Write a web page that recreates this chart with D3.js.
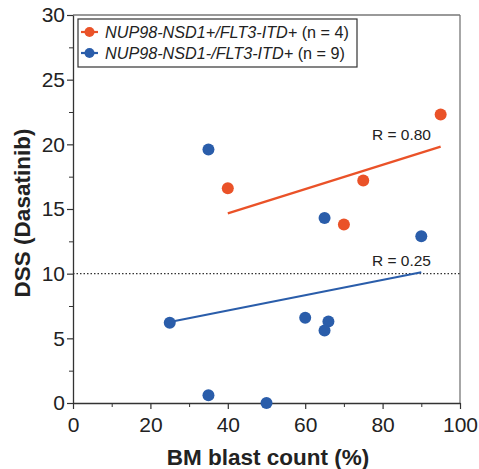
<!DOCTYPE html>
<html>
<head>
<meta charset="utf-8">
<script src="https://cdn.jsdelivr.net/npm/d3@7"></script>
<style>
  body { margin: 0; background: #fff; }
  text { font-family: "Liberation Sans", Arial, sans-serif; fill: #222; }
</style>
</head>
<body>
<svg id="chart" width="479" height="469"></svg>
<script>
// data
var posBlast = [40, 70, 75, 95];
var posDss = [16.6, 13.8, 17.2, 22.3];
var negBlast = [35, 65, 90, 25, 60, 66, 65, 35, 50];
var negDss = [19.6, 14.3, 12.9, 6.2, 6.6, 6.3, 5.6, 0.6, 0];
var seriesNames = ['NUP98-NSD1+/FLT3-ITD+', 'NUP98-NSD1-/FLT3-ITD+'];
var seriesCounts = ['(n = 4)', '(n = 9)'];
var seriesR = ['R = 0.80', 'R = 0.25'];
var xTicks = [0, 20, 40, 60, 80, 100];
var yTicks = [0, 5, 10, 15, 20, 25, 30];
var threshold = 10;

var colors = ['#ea5228', '#2a5daa'];

var svg = d3.select('#chart');
var margin = {left: 73, right: 19, top: 15, bottom: 66};
var width = 479 - margin.left - margin.right;
var height = 469 - margin.top - margin.bottom;

var x = d3.scaleLinear().domain([0, 100]).range([0, width]);
var y = d3.scaleLinear().domain([0, 30]).range([height, 0]);

var g = svg.append('g').attr('transform', 'translate(' + margin.left + ',' + margin.top + ')');

// frame on top and right
g.append('line').attr('x1', 0).attr('x2', width).attr('y1', 0).attr('y2', 0)
  .attr('stroke', '#777').attr('stroke-width', 1.3);
g.append('line').attr('x1', width).attr('x2', width).attr('y1', 0).attr('y2', height)
  .attr('stroke', '#777').attr('stroke-width', 1.3);

// minor ticks
var xMinor = g.append('g').attr('transform', 'translate(0,' + height + ')')
  .call(d3.axisBottom(x).tickValues(d3.range(10, 100, 20)).tickSize(4).tickFormat(''));
var yMinor = g.append('g')
  .call(d3.axisLeft(y).tickValues(d3.range(2.5, 30, 5)).tickSize(4).tickFormat(''));
[xMinor, yMinor].forEach(function(a) {
  a.select('.domain').remove();
  a.selectAll('line').attr('stroke', '#333').attr('stroke-width', 1);
});

var xAxis = g.append('g').attr('transform', 'translate(0,' + height + ')')
  .call(d3.axisBottom(x).tickValues(xTicks).tickSize(6).tickPadding(8).tickSizeOuter(0));
var yAxis = g.append('g')
  .call(d3.axisLeft(y).tickValues(yTicks).tickSize(6).tickPadding(2).tickSizeOuter(0));
[xAxis, yAxis].forEach(function(a) {
  a.select('.domain').attr('stroke', '#333').attr('stroke-width', 1.3);
  a.selectAll('line').attr('stroke', '#333').attr('stroke-width', 1.2);
  a.selectAll('text').style('font-size', '21px').style('font-family', '"Liberation Sans", Arial, sans-serif').attr('fill', '#222');
});

// threshold line
g.append('line')
  .attr('x1', 0).attr('x2', width)
  .attr('y1', y(threshold)).attr('y2', y(threshold))
  .attr('stroke', '#333').attr('stroke-width', 1.2)
  .attr('stroke-dasharray', '1.5,2');

// least squares fit
var fit = function(xs, ys) {
  var mx = d3.mean(xs), my = d3.mean(ys);
  var sxy = d3.sum(xs, function(v, i) { return (v - mx) * (ys[i] - my); });
  var sxx = d3.sum(xs, function(v) { return (v - mx) * (v - mx); });
  var b = sxy / sxx;
  return function(v) { return my + b * (v - mx); };
};

var series = [
  {xs: posBlast, ys: posDss},
  {xs: negBlast, ys: negDss}
];

series.forEach(function(s, k) {
  var f = fit(s.xs, s.ys);
  var x0 = d3.min(s.xs), x1 = d3.max(s.xs);
  g.append('line')
    .attr('x1', x(x0)).attr('y1', y(f(x0)))
    .attr('x2', x(x1)).attr('y2', y(f(x1)))
    .attr('stroke', colors[k]).attr('stroke-width', 2.2);
  g.append('text')
    .attr('x', x(92.5)).attr('y', y(f(x1)) - 6.5)
    .attr('text-anchor', 'end')
    .style('font-size', '15.5px')
    .text(seriesR[k]);
});

// draw blue first, orange on top
[1, 0].forEach(function(k) {
  var s = series[k];
  g.selectAll('circle.s' + k)
    .data(s.xs)
    .enter().append('circle')
    .attr('class', 's' + k)
    .attr('cx', function(d) { return x(d); })
    .attr('cy', function(d, i) { return y(s.ys[i]); })
    .attr('r', 6)
    .attr('fill', colors[k]);
});

// legend
var legend = g.append('g').attr('transform', 'translate(5,4)');
legend.append('rect')
  .attr('x', 0).attr('y', 0).attr('width', 279).attr('height', 48)
  .attr('fill', '#fff').attr('stroke', '#333').attr('stroke-width', 1.2);
seriesNames.forEach(function(name, k) {
  var row = legend.append('g').attr('transform', 'translate(0,' + (13 + k * 21) + ')');
  row.append('line').attr('x1', 3).attr('x2', 20).attr('y1', 0).attr('y2', 0)
    .attr('stroke', colors[k]).attr('stroke-width', 2.2);
  row.append('circle').attr('cx', 11.5).attr('cy', 0).attr('r', 5).attr('fill', colors[k]);
  var t = row.append('text').attr('x', 27).attr('y', 6).style('font-size', '16.2px');
  t.append('tspan').style('font-style', 'italic').text(name);
  t.append('tspan').text(' ' + seriesCounts[k]);
});

// axis titles
svg.append('text')
  .attr('x', 268).attr('y', 465)
  .attr('text-anchor', 'middle')
  .style('font-size', '22.5px').style('font-weight', 'bold')
  .text('BM blast count (%)');
svg.append('text')
  .attr('transform', 'translate(30,213) rotate(-90)')
  .attr('text-anchor', 'middle')
  .style('font-size', '22.5px').style('font-weight', 'bold')
  .text('DSS (Dasatinib)');
</script>
</body>
</html>
